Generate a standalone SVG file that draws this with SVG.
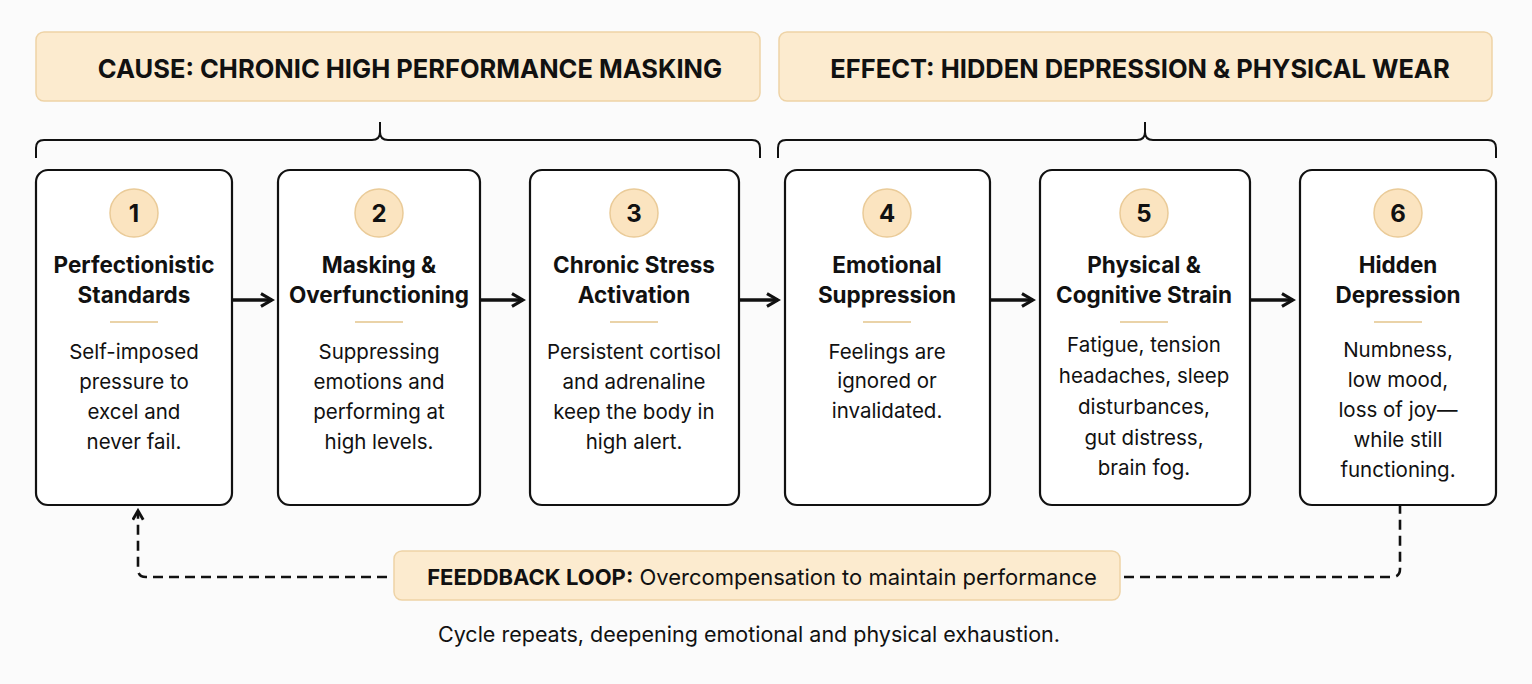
<svg xmlns="http://www.w3.org/2000/svg" width="1532" height="684" viewBox="0 0 1532 684">
<style>
text{font-family:"Inter","Noto Sans","Liberation Sans",sans-serif;fill:#111;text-anchor:middle}
.hdr{fill:#fcebcf;stroke:#eed3a6;stroke-width:1.5}
.ht{font-size:25.5px;font-weight:700}
.box{fill:#fff;stroke:#111;stroke-width:2.2}
.num{fill:#fbe4c0;stroke:#eacb98;stroke-width:1.5}
.nt{font-size:24px;font-weight:700}
.tt{font-size:22.5px;font-weight:700}
.bt{font-size:20.5px}
.div{stroke:#ead3a8;stroke-width:2}
.ln{fill:none;stroke:#111;stroke-width:2}
.ar{fill:none;stroke:#111;stroke-width:3.5;marker-end:url(#ah)}
.dash{fill:none;stroke:#111;stroke-width:2.6;stroke-dasharray:10 6}
</style>
<defs>
<marker id="ah" viewBox="0 0 10 10" refX="8" refY="5" markerWidth="4.5" markerHeight="4.5" orient="auto"><path d="M1 1L8 5L1 9" fill="none" stroke="#111" stroke-width="2"/></marker>
<marker id="ah2" viewBox="0 0 10 10" refX="7" refY="5" markerWidth="5" markerHeight="5" orient="auto"><path d="M1 1L8 5L1 9" fill="none" stroke="#111" stroke-width="2.2"/></marker>
</defs>
<rect width="1532" height="684" fill="#fbfbfb"/>
<g id="cause"><rect class="hdr" x="36" y="32" width="724" height="69" rx="8"/><text class="ht" x="410" y="78">CAUSE: CHRONIC HIGH PERFORMANCE MASKING</text></g>
<g id="effect"><rect class="hdr" x="779" y="32" width="713" height="69" rx="8"/><text class="ht" x="1140" y="78">EFFECT: HIDDEN DEPRESSION &amp; PHYSICAL WEAR</text></g>
<g id="connectors">
<path class="ln" d="M36 158V148Q36 140 44 140H372Q380 140 380 132V122M380 132Q380 140 388 140H752Q760 140 760 148V158"/>
<path class="ln" d="M778 158V148Q778 140 786 140H1137Q1145 140 1145 132V122M1145 132Q1145 140 1153 140H1488Q1496 140 1496 148V158"/>
<path class="ar" d="M233 300H272"/>
<path class="ar" d="M481 300H523"/>
<path class="ar" d="M740 300H778"/>
<path class="ar" d="M991 300H1033"/>
<path class="ar" d="M1251 300H1293"/>
<path class="dash" d="M387 577H146Q138 577 138 569V512" marker-end="url(#ah2)"/>
<path class="dash" d="M1124 577H1392Q1400 577 1400 569V506"/>
</g>
<g id="n1"><rect class="box" x="36" y="170" width="196" height="335" rx="12"/><circle class="num" cx="134" cy="213" r="24"/><text class="nt" x="134" y="222">1</text><text class="tt" x="134" y="273">Perfectionistic</text><text class="tt" x="134" y="303">Standards</text><line class="div" x1="110" y1="322" x2="158" y2="322"/><text class="bt" x="134" y="359">Self-imposed</text><text class="bt" x="134" y="389">pressure to</text><text class="bt" x="134" y="419">excel and</text><text class="bt" x="134" y="449">never fail.</text></g>
<g id="n2"><rect class="box" x="278" y="170" width="202" height="335" rx="12"/><circle class="num" cx="379" cy="213" r="24"/><text class="nt" x="379" y="222">2</text><text class="tt" x="379" y="273">Masking &amp;</text><text class="tt" x="379" y="303">Overfunctioning</text><line class="div" x1="355" y1="322" x2="403" y2="322"/><text class="bt" x="379" y="359">Suppressing</text><text class="bt" x="379" y="389">emotions and</text><text class="bt" x="379" y="419">performing at</text><text class="bt" x="379" y="449">high levels.</text></g>
<g id="n3"><rect class="box" x="530" y="170" width="209" height="335" rx="12"/><circle class="num" cx="634" cy="213" r="24"/><text class="nt" x="634" y="222">3</text><text class="tt" x="634" y="273">Chronic Stress</text><text class="tt" x="634" y="303">Activation</text><line class="div" x1="610" y1="322" x2="658" y2="322"/><text class="bt" x="634" y="359">Persistent cortisol</text><text class="bt" x="634" y="389">and adrenaline</text><text class="bt" x="634" y="419">keep the body in</text><text class="bt" x="634" y="449">high alert.</text></g>
<g id="n4"><rect class="box" x="785" y="170" width="205" height="335" rx="12"/><circle class="num" cx="887" cy="213" r="24"/><text class="nt" x="887" y="222">4</text><text class="tt" x="887" y="273">Emotional</text><text class="tt" x="887" y="303">Suppression</text><line class="div" x1="863" y1="322" x2="911" y2="322"/><text class="bt" x="887" y="359">Feelings are</text><text class="bt" x="887" y="388">ignored or</text><text class="bt" x="887" y="418">invalidated.</text></g>
<g id="n5"><rect class="box" x="1040" y="170" width="210" height="335" rx="12"/><circle class="num" cx="1144" cy="213" r="24"/><text class="nt" x="1144" y="222">5</text><text class="tt" x="1144" y="273">Physical &amp;</text><text class="tt" x="1144" y="303">Cognitive Strain</text><line class="div" x1="1120" y1="322" x2="1168" y2="322"/><text class="bt" x="1144" y="352">Fatigue, tension</text><text class="bt" x="1144" y="383">headaches, sleep</text><text class="bt" x="1144" y="414">disturbances,</text><text class="bt" x="1144" y="445">gut distress,</text><text class="bt" x="1144" y="475">brain fog.</text></g>
<g id="n6"><rect class="box" x="1300" y="170" width="196" height="335" rx="12"/><circle class="num" cx="1398" cy="213" r="24"/><text class="nt" x="1398" y="222">6</text><text class="tt" x="1398" y="273">Hidden</text><text class="tt" x="1398" y="303">Depression</text><line class="div" x1="1374" y1="322" x2="1422" y2="322"/><text class="bt" x="1398" y="357">Numbness,</text><text class="bt" x="1398" y="387">low mood,</text><text class="bt" x="1398" y="417">loss of joy—</text><text class="bt" x="1398" y="447">while still</text><text class="bt" x="1398" y="477">functioning.</text></g>
<g id="feedback"><rect class="hdr" x="394" y="551" width="726" height="49" rx="8"/><text x="762" y="585" style="font-size:22px"><tspan font-weight="700">FEEDDBACK LOOP:</tspan> Overcompensation to maintain performance</text></g>
<g id="caption"><text x="749" y="642" style="font-size:21.5px">Cycle repeats, deepening emotional and physical exhaustion.</text></g>
</svg>
